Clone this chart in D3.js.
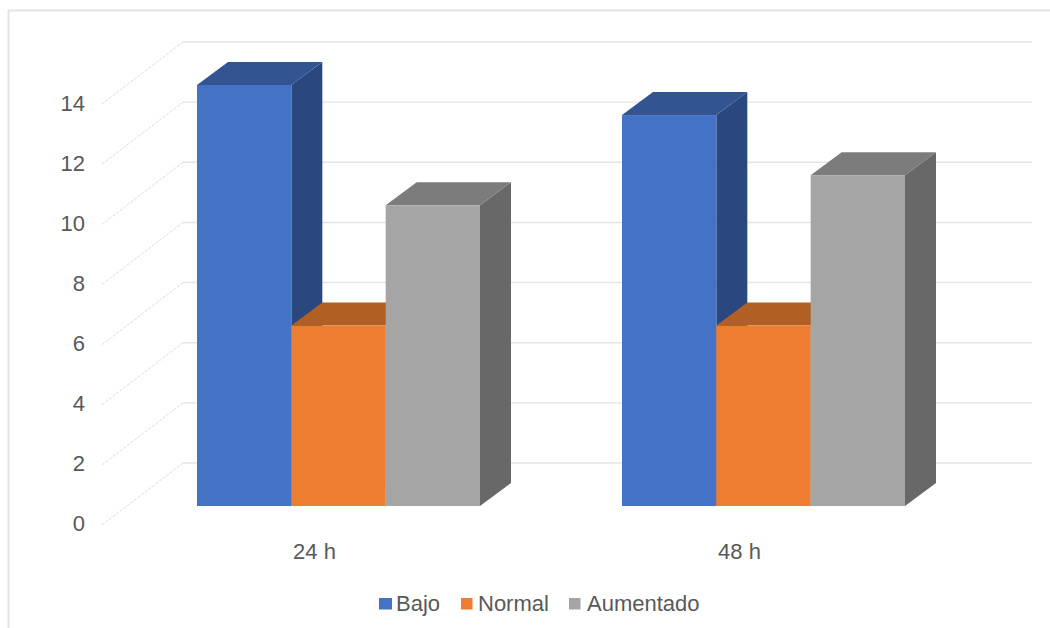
<!DOCTYPE html>
<html>
<head>
<meta charset="utf-8">
<style>
html, body { margin: 0; padding: 0; background: #fff; overflow: hidden; }
svg { display: block; }
text { font-family: "Liberation Sans", Arial, sans-serif; fill: #595959; }
</style>
<script src="https://cdn.jsdelivr.net/npm/d3@7/dist/d3.min.js"></script>
</head>
<body>
<svg id="chart" width="1050" height="628"></svg>
<script>
// Chart values
const categories = ["24 h", "48 h"];
const seriesNames = ["Bajo", "Normal", "Aumentado"];
const bajo = [14, 13];
const normal = [6, 6];
const aumentado = [10, 11];
const yTicks = [0, 2, 4, 6, 8, 10, 12, 14];

// Fill colours for the front, top and side faces of each series
const frontColors = ["#4472C4", "#ED7D31", "#A5A5A5"];
const topColors = ["#325591", "#B15F22", "#7C7C7C"];
const sideColors = ["#2A4780", "#9A5220", "#686868"];

const seriesValues = [bajo, normal, aumentado];
const svg = d3.select("#chart");
const labelSize = 22;

// Projection of the box: depth shift of a bar, and of the back wall
const depth = { dx: 31, dy: -23 };
const wall = { x0: 102, x1: 183, dy: -62, right: 1032 };

const y = d3.scaleLinear().domain([0, 14]).range([506, 85]);
const backY = v => y(v) - 43;
const axisY = v => backY(v) - wall.dy;

const xGroup = d3.scalePoint().domain(categories).range([197, 622]);
const xSeries = d3.scaleBand().domain(seriesNames).range([0, 283]);

// Outer frame, open on the right and bottom
svg.append("path")
  .attr("d", "M8.5,628V10.5H1050")
  .attr("fill", "none")
  .attr("stroke", "#e3e3e3")
  .attr("stroke-width", 2);

// Back wall gridlines and the dotted floor-side lines
const grid = svg.append("g");
grid.selectAll("line.back").data(yTicks).join("line")
  .attr("class", "back")
  .attr("x1", wall.x1).attr("x2", wall.right)
  .attr("y1", backY).attr("y2", backY)
  .attr("stroke", "#e4e4e4").attr("stroke-width", 1.4);
grid.selectAll("line.side").data(yTicks).join("line")
  .attr("class", "side")
  .attr("x1", wall.x0).attr("x2", wall.x1)
  .attr("y1", axisY).attr("y2", backY)
  .attr("stroke", "#dcdcdc").attr("stroke-width", 1)
  .attr("stroke-dasharray", "3 1.5");

// Bars, painted left to right so each one hides the side of its neighbour
const pts = a => a.map(p => p.join(",")).join(" ");
categories.forEach((cat, c) => {
  seriesNames.forEach((name, s) => {
    const v = seriesValues[s][c];
    const x0 = xGroup(cat) + xSeries(name);
    const x1 = x0 + xSeries.bandwidth();
    const yt = y(v), yb = y(0);
    const g = svg.append("g").attr("class", "bar");
    g.append("polygon")
      .attr("points", pts([[x1, yt], [x1 + depth.dx, yt + depth.dy], [x1 + depth.dx, yb + depth.dy], [x1, yb]]))
      .attr("fill", sideColors[s]);
    g.append("polygon")
      .attr("points", pts([[x0, yt], [x0 + depth.dx, yt + depth.dy], [x1 + depth.dx, yt + depth.dy], [x1, yt]]))
      .attr("fill", topColors[s]);
    g.append("rect")
      .attr("x", x0).attr("y", yt)
      .attr("width", xSeries.bandwidth()).attr("height", yb - yt)
      .attr("fill", frontColors[s]);
  });
});

// Value axis labels
const yAxis = d3.axisLeft(d3.scaleLinear().domain([0, 14]).range([y(0) + 17, y(14) + 18]))
  .tickValues(yTicks).tickSize(0).tickPadding(0).tickFormat(d3.format("d"));
const yAxisG = svg.append("g").attr("transform", "translate(85,0)").call(yAxis);
yAxisG.select(".domain").remove();
yAxisG.selectAll("text")
  .attr("font-size", labelSize).attr("fill", "#595959")
  .style("font-family", '"Liberation Sans", Arial, sans-serif');

// Category labels
svg.selectAll("text.cat").data(categories).join("text")
  .attr("class", "cat")
  .attr("x", d => xGroup(d) + 117.5)
  .attr("y", 559)
  .attr("text-anchor", "middle")
  .attr("font-size", labelSize)
  .text(d => d);

// Legend
const legendX = [379, 461, 569];
const legend = svg.selectAll("g.legend").data(seriesNames).join("g")
  .attr("class", "legend")
  .attr("transform", (d, i) => `translate(${legendX[i]},598)`);
legend.append("rect")
  .attr("width", (d, i) => i === 0 ? 13 : 11.5)
  .attr("height", 11.5)
  .attr("fill", (d, i) => frontColors[i]);
legend.append("text")
  .attr("x", (d, i) => i === 2 ? 18 : 17)
  .attr("y", 13)
  .attr("font-size", labelSize)
  .text(d => d);
</script>
</body>
</html>
